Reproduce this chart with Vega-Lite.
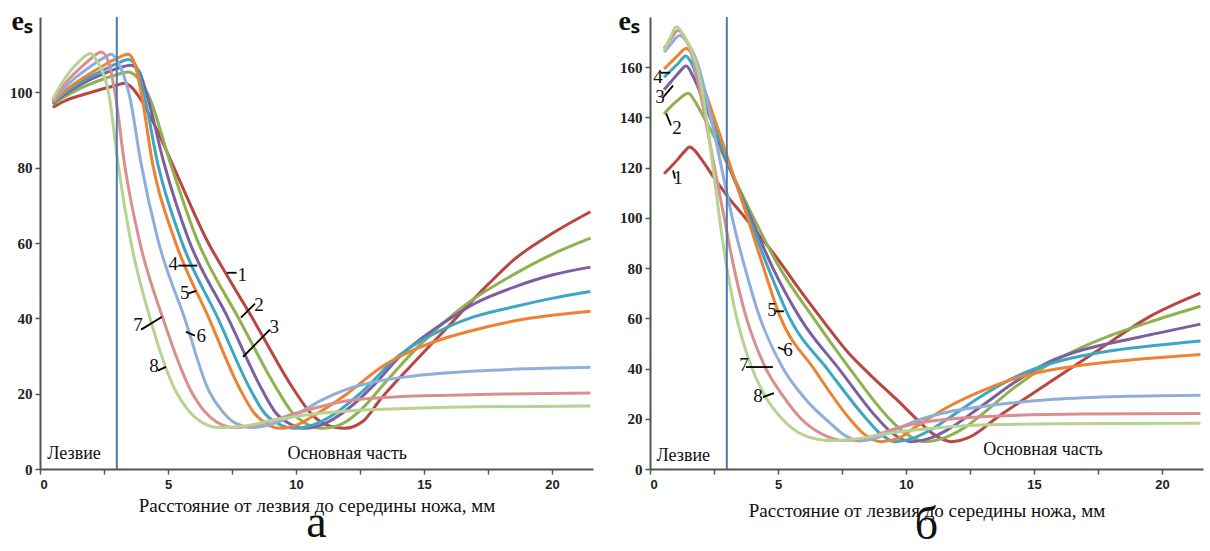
{
"$schema": "https://vega.github.io/schema/vega-lite/v6.json",
"background": "white",
"padding": {"left": 9, "top": 7, "right": 0, "bottom": 0},
"bounds": "flush",
"spacing": 57,
"config": {"view": {"stroke": null}, "axis": {"grid": false}},
"datasets": {
"a": [
{"c":"1","x":0.5,"y":96.0},{"c":"1","x":1.0,"y":97.8},{"c":"1","x":1.5,"y":99.0},{"c":"1","x":2.0,"y":100.0},{"c":"1","x":2.5,"y":101.0},{"c":"1","x":3.0,"y":101.9},{"c":"1","x":3.3,"y":102.4},{"c":"1","x":3.6,"y":101.2},{"c":"1","x":3.9,"y":98.5},{"c":"1","x":4.5,"y":91.0},{"c":"1","x":5.2,"y":80.5},{"c":"1","x":5.85,"y":70.5},{"c":"1","x":6.5,"y":61.0},{"c":"1","x":7.34,"y":51.0},{"c":"1","x":8.3,"y":40.0},{"c":"1","x":9.95,"y":20.7},{"c":"1","x":10.55,"y":15.0},{"c":"1","x":11.1,"y":12.0},{"c":"1","x":11.9,"y":10.8},{"c":"1","x":12.6,"y":12.6},{"c":"1","x":13.3,"y":18.5},{"c":"1","x":14.5,"y":27.5},{"c":"1","x":15.9,"y":37.5},{"c":"1","x":17.5,"y":49.0},{"c":"1","x":18.5,"y":55.5},{"c":"1","x":20.0,"y":62.5},{"c":"1","x":21.5,"y":68.3},
{"c":"2","x":0.5,"y":96.8},{"c":"2","x":1.0,"y":99.0},{"c":"2","x":1.5,"y":100.8},{"c":"2","x":2.0,"y":102.3},{"c":"2","x":2.5,"y":103.6},{"c":"2","x":3.0,"y":104.7},{"c":"2","x":3.45,"y":105.4},{"c":"2","x":3.75,"y":104.3},{"c":"2","x":4.25,"y":99.0},{"c":"2","x":5.1,"y":81.0},{"c":"2","x":6.1,"y":61.5},{"c":"2","x":7.8,"y":39.5},{"c":"2","x":9.3,"y":20.7},{"c":"2","x":9.85,"y":15.0},{"c":"2","x":10.35,"y":12.2},{"c":"2","x":11.0,"y":10.8},{"c":"2","x":11.8,"y":12.0},{"c":"2","x":12.5,"y":15.5},{"c":"2","x":13.3,"y":21.5},{"c":"2","x":14.0,"y":26.9},{"c":"2","x":15.0,"y":34.0},{"c":"2","x":16.6,"y":43.5},{"c":"2","x":18.6,"y":52.0},{"c":"2","x":20.0,"y":57.0},{"c":"2","x":21.5,"y":61.3},
{"c":"3","x":0.5,"y":97.0},{"c":"3","x":1.0,"y":99.6},{"c":"3","x":1.5,"y":101.7},{"c":"3","x":2.0,"y":103.5},{"c":"3","x":2.5,"y":105.0},{"c":"3","x":3.0,"y":106.3},{"c":"3","x":3.55,"y":107.2},{"c":"3","x":3.85,"y":105.8},{"c":"3","x":4.15,"y":100.0},{"c":"3","x":4.85,"y":81.0},{"c":"3","x":5.8,"y":61.0},{"c":"3","x":7.35,"y":40.0},{"c":"3","x":8.7,"y":20.7},{"c":"3","x":9.2,"y":15.0},{"c":"3","x":9.7,"y":12.2},{"c":"3","x":10.3,"y":10.8},{"c":"3","x":11.1,"y":12.0},{"c":"3","x":12.0,"y":15.8},{"c":"3","x":13.0,"y":22.0},{"c":"3","x":14.0,"y":29.5},{"c":"3","x":15.9,"y":39.4},{"c":"3","x":17.0,"y":44.0},{"c":"3","x":18.6,"y":48.5},{"c":"3","x":20.0,"y":51.5},{"c":"3","x":21.5,"y":53.6},
{"c":"4","x":0.5,"y":97.2},{"c":"4","x":1.0,"y":100.0},{"c":"4","x":1.5,"y":102.3},{"c":"4","x":2.0,"y":104.3},{"c":"4","x":2.5,"y":106.0},{"c":"4","x":3.0,"y":107.6},{"c":"4","x":3.45,"y":108.7},{"c":"4","x":3.75,"y":107.0},{"c":"4","x":4.05,"y":100.0},{"c":"4","x":4.6,"y":81.0},{"c":"4","x":5.5,"y":61.0},{"c":"4","x":6.95,"y":40.0},{"c":"4","x":8.25,"y":20.7},{"c":"4","x":8.75,"y":15.0},{"c":"4","x":9.25,"y":12.2},{"c":"4","x":9.95,"y":10.8},{"c":"4","x":10.7,"y":11.8},{"c":"4","x":11.5,"y":14.6},{"c":"4","x":12.5,"y":20.0},{"c":"4","x":14.0,"y":30.0},{"c":"4","x":15.9,"y":37.6},{"c":"4","x":17.0,"y":40.5},{"c":"4","x":18.6,"y":43.2},{"c":"4","x":20.0,"y":45.3},{"c":"4","x":21.5,"y":47.1},
{"c":"5","x":0.5,"y":97.4},{"c":"5","x":1.0,"y":100.5},{"c":"5","x":1.5,"y":103.0},{"c":"5","x":2.0,"y":105.2},{"c":"5","x":2.5,"y":107.2},{"c":"5","x":3.0,"y":109.0},{"c":"5","x":3.44,"y":110.1},{"c":"5","x":3.68,"y":108.0},{"c":"5","x":3.95,"y":100.0},{"c":"5","x":4.4,"y":81.0},{"c":"5","x":5.25,"y":61.0},{"c":"5","x":6.6,"y":40.0},{"c":"5","x":7.85,"y":20.7},{"c":"5","x":8.35,"y":15.0},{"c":"5","x":8.8,"y":12.2},{"c":"5","x":9.4,"y":10.8},{"c":"5","x":10.0,"y":11.6},{"c":"5","x":10.7,"y":14.2},{"c":"5","x":12.0,"y":20.0},{"c":"5","x":13.3,"y":26.9},{"c":"5","x":14.6,"y":31.6},{"c":"5","x":15.9,"y":34.9},{"c":"5","x":17.2,"y":37.3},{"c":"5","x":18.6,"y":39.4},{"c":"5","x":20.0,"y":40.8},{"c":"5","x":21.5,"y":41.9},
{"c":"6","x":0.5,"y":97.6},{"c":"6","x":1.0,"y":101.5},{"c":"6","x":1.5,"y":104.5},{"c":"6","x":2.0,"y":107.0},{"c":"6","x":2.5,"y":109.2},{"c":"6","x":2.78,"y":110.1},{"c":"6","x":3.05,"y":108.0},{"c":"6","x":3.5,"y":99.0},{"c":"6","x":3.95,"y":81.0},{"c":"6","x":4.6,"y":61.0},{"c":"6","x":5.65,"y":40.0},{"c":"6","x":6.6,"y":20.7},{"c":"6","x":7.1,"y":15.5},{"c":"6","x":7.6,"y":12.3},{"c":"6","x":8.3,"y":11.0},{"c":"6","x":9.0,"y":11.8},{"c":"6","x":10.0,"y":14.5},{"c":"6","x":11.0,"y":18.3},{"c":"6","x":12.0,"y":21.2},{"c":"6","x":13.2,"y":23.3},{"c":"6","x":14.6,"y":24.7},{"c":"6","x":17.0,"y":26.0},{"c":"6","x":19.0,"y":26.6},{"c":"6","x":21.5,"y":27.0},
{"c":"7","x":0.5,"y":97.8},{"c":"7","x":1.0,"y":102.5},{"c":"7","x":1.5,"y":106.0},{"c":"7","x":2.0,"y":109.0},{"c":"7","x":2.39,"y":110.7},{"c":"7","x":2.65,"y":108.5},{"c":"7","x":2.95,"y":99.0},{"c":"7","x":3.3,"y":81.0},{"c":"7","x":3.87,"y":61.0},{"c":"7","x":4.8,"y":40.0},{"c":"7","x":5.9,"y":20.7},{"c":"7","x":6.4,"y":15.5},{"c":"7","x":6.9,"y":12.5},{"c":"7","x":7.6,"y":11.0},{"c":"7","x":8.5,"y":11.8},{"c":"7","x":10.0,"y":14.8},{"c":"7","x":12.0,"y":18.1},{"c":"7","x":14.0,"y":19.2},{"c":"7","x":16.0,"y":19.6},{"c":"7","x":18.0,"y":19.9},{"c":"7","x":21.5,"y":20.2},
{"c":"8","x":0.5,"y":98.2},{"c":"8","x":1.0,"y":104.0},{"c":"8","x":1.5,"y":108.0},{"c":"8","x":1.97,"y":110.3},{"c":"8","x":2.25,"y":108.0},{"c":"8","x":2.7,"y":99.0},{"c":"8","x":3.05,"y":81.0},{"c":"8","x":3.53,"y":61.0},{"c":"8","x":4.3,"y":40.0},{"c":"8","x":5.3,"y":20.7},{"c":"8","x":5.8,"y":15.5},{"c":"8","x":6.3,"y":12.5},{"c":"8","x":7.0,"y":11.0},{"c":"8","x":8.0,"y":11.4},{"c":"8","x":9.0,"y":12.8},{"c":"8","x":10.7,"y":14.6},{"c":"8","x":12.0,"y":15.4},{"c":"8","x":14.6,"y":16.1},{"c":"8","x":17.0,"y":16.5},{"c":"8","x":21.5,"y":16.7}
],
"b": [
{"c":"1","x":0.55,"y":117.6},{"c":"1","x":0.8,"y":120.2},{"c":"1","x":1.1,"y":123.5},{"c":"1","x":1.35,"y":126.5},{"c":"1","x":1.55,"y":128.2},{"c":"1","x":1.75,"y":126.8},{"c":"1","x":2.0,"y":123.5},{"c":"1","x":2.5,"y":116.0},{"c":"1","x":3.05,"y":108.3},{"c":"1","x":3.6,"y":101.5},{"c":"1","x":4.15,"y":94.5},{"c":"1","x":5.0,"y":83.5},{"c":"1","x":5.8,"y":72.0},{"c":"1","x":6.76,"y":59.0},{"c":"1","x":7.73,"y":46.5},{"c":"1","x":8.6,"y":37.5},{"c":"1","x":9.6,"y":28.0},{"c":"1","x":10.45,"y":19.5},{"c":"1","x":11.05,"y":14.0},{"c":"1","x":11.77,"y":10.9},{"c":"1","x":12.5,"y":12.8},{"c":"1","x":13.6,"y":20.8},{"c":"1","x":15.55,"y":34.1},{"c":"1","x":17.5,"y":47.3},{"c":"1","x":19.45,"y":60.3},{"c":"1","x":21.5,"y":70.0},
{"c":"2","x":0.55,"y":141.4},{"c":"2","x":0.8,"y":144.2},{"c":"2","x":1.1,"y":147.0},{"c":"2","x":1.5,"y":149.6},{"c":"2","x":1.75,"y":146.5},{"c":"2","x":2.0,"y":142.0},{"c":"2","x":2.5,"y":132.5},{"c":"2","x":3.0,"y":122.0},{"c":"2","x":4.0,"y":101.0},{"c":"2","x":5.07,"y":80.0},{"c":"2","x":6.43,"y":59.5},{"c":"2","x":7.8,"y":40.0},{"c":"2","x":9.35,"y":20.0},{"c":"2","x":10.0,"y":14.0},{"c":"2","x":10.73,"y":10.9},{"c":"2","x":11.6,"y":12.8},{"c":"2","x":12.3,"y":16.5},{"c":"2","x":12.94,"y":21.5},{"c":"2","x":14.24,"y":32.5},{"c":"2","x":15.55,"y":41.5},{"c":"2","x":16.84,"y":48.3},{"c":"2","x":18.15,"y":53.8},{"c":"2","x":19.45,"y":58.3},{"c":"2","x":21.5,"y":64.8},
{"c":"3","x":0.55,"y":151.0},{"c":"3","x":0.8,"y":154.0},{"c":"3","x":1.1,"y":157.5},{"c":"3","x":1.42,"y":160.5},{"c":"3","x":1.65,"y":157.0},{"c":"3","x":2.0,"y":149.0},{"c":"3","x":2.5,"y":136.0},{"c":"3","x":3.0,"y":122.5},{"c":"3","x":3.9,"y":101.0},{"c":"3","x":4.8,"y":80.0},{"c":"3","x":5.9,"y":59.5},{"c":"3","x":7.41,"y":39.5},{"c":"3","x":8.9,"y":20.0},{"c":"3","x":9.5,"y":14.0},{"c":"3","x":10.2,"y":10.9},{"c":"3","x":11.0,"y":12.5},{"c":"3","x":11.6,"y":15.5},{"c":"3","x":12.94,"y":25.0},{"c":"3","x":14.24,"y":34.5},{"c":"3","x":15.55,"y":42.5},{"c":"3","x":16.84,"y":47.3},{"c":"3","x":18.15,"y":50.5},{"c":"3","x":19.8,"y":54.0},{"c":"3","x":21.5,"y":57.7},
{"c":"4","x":0.55,"y":156.0},{"c":"4","x":0.8,"y":158.5},{"c":"4","x":1.1,"y":161.5},{"c":"4","x":1.4,"y":164.5},{"c":"4","x":1.6,"y":162.0},{"c":"4","x":2.0,"y":151.0},{"c":"4","x":2.5,"y":137.0},{"c":"4","x":3.0,"y":123.5},{"c":"4","x":3.8,"y":102.0},{"c":"4","x":4.6,"y":80.5},{"c":"4","x":5.46,"y":60.0},{"c":"4","x":6.95,"y":39.5},{"c":"4","x":8.45,"y":20.0},{"c":"4","x":8.95,"y":14.5},{"c":"4","x":9.56,"y":10.9},{"c":"4","x":10.34,"y":12.5},{"c":"4","x":11.0,"y":15.8},{"c":"4","x":11.6,"y":19.8},{"c":"4","x":12.94,"y":29.0},{"c":"4","x":14.24,"y":36.5},{"c":"4","x":15.55,"y":41.7},{"c":"4","x":16.84,"y":45.0},{"c":"4","x":18.15,"y":47.3},{"c":"4","x":19.8,"y":49.3},{"c":"4","x":21.5,"y":51.0},
{"c":"5","x":0.55,"y":159.3},{"c":"5","x":0.8,"y":161.8},{"c":"5","x":1.1,"y":164.8},{"c":"5","x":1.4,"y":167.5},{"c":"5","x":1.6,"y":166.0},{"c":"5","x":2.0,"y":155.0},{"c":"5","x":2.5,"y":140.0},{"c":"5","x":3.0,"y":125.0},{"c":"5","x":3.7,"y":103.5},{"c":"5","x":4.41,"y":81.0},{"c":"5","x":5.07,"y":61.0},{"c":"5","x":6.43,"y":39.5},{"c":"5","x":7.8,"y":20.0},{"c":"5","x":8.35,"y":14.0},{"c":"5","x":9.03,"y":10.9},{"c":"5","x":9.7,"y":12.2},{"c":"5","x":10.34,"y":16.5},{"c":"5","x":11.6,"y":24.5},{"c":"5","x":12.94,"y":31.0},{"c":"5","x":14.24,"y":36.0},{"c":"5","x":15.55,"y":39.2},{"c":"5","x":16.84,"y":41.3},{"c":"5","x":18.15,"y":42.8},{"c":"5","x":19.8,"y":44.3},{"c":"5","x":21.5,"y":45.6},
{"c":"6","x":0.55,"y":166.0},{"c":"6","x":0.8,"y":169.0},{"c":"6","x":1.16,"y":172.6},{"c":"6","x":1.45,"y":170.0},{"c":"6","x":1.875,"y":161.0},{"c":"6","x":2.4,"y":139.0},{"c":"6","x":3.0,"y":110.0},{"c":"6","x":3.35,"y":94.0},{"c":"6","x":3.7,"y":80.5},{"c":"6","x":4.2,"y":63.0},{"c":"6","x":5.2,"y":40.0},{"c":"6","x":6.1,"y":27.5},{"c":"6","x":7.07,"y":18.0},{"c":"6","x":7.6,"y":13.5},{"c":"6","x":8.2,"y":11.2},{"c":"6","x":8.9,"y":12.6},{"c":"6","x":9.6,"y":15.8},{"c":"6","x":10.34,"y":19.0},{"c":"6","x":11.6,"y":22.6},{"c":"6","x":12.94,"y":24.8},{"c":"6","x":15.55,"y":27.6},{"c":"6","x":18.0,"y":28.8},{"c":"6","x":21.5,"y":29.4},
{"c":"7","x":0.55,"y":167.5},{"c":"7","x":0.8,"y":171.0},{"c":"7","x":1.09,"y":174.6},{"c":"7","x":1.35,"y":172.0},{"c":"7","x":1.6,"y":166.0},{"c":"7","x":2.0,"y":148.0},{"c":"7","x":2.5,"y":121.0},{"c":"7","x":2.9,"y":100.0},{"c":"7","x":3.24,"y":82.0},{"c":"7","x":3.7,"y":62.5},{"c":"7","x":4.48,"y":41.0},{"c":"7","x":5.2,"y":29.0},{"c":"7","x":5.9,"y":20.0},{"c":"7","x":6.7,"y":14.0},{"c":"7","x":7.6,"y":11.3},{"c":"7","x":8.5,"y":12.3},{"c":"7","x":9.2,"y":14.8},{"c":"7","x":10.34,"y":18.0},{"c":"7","x":11.6,"y":19.8},{"c":"7","x":12.94,"y":20.8},{"c":"7","x":16.84,"y":21.9},{"c":"7","x":21.5,"y":22.1},
{"c":"8","x":0.55,"y":166.6},{"c":"8","x":0.8,"y":172.0},{"c":"8","x":1.03,"y":176.1},{"c":"8","x":1.3,"y":173.0},{"c":"8","x":1.6,"y":167.0},{"c":"8","x":1.875,"y":159.0},{"c":"8","x":2.2,"y":140.0},{"c":"8","x":2.5,"y":117.0},{"c":"8","x":2.85,"y":90.0},{"c":"8","x":3.3,"y":64.0},{"c":"8","x":3.95,"y":41.0},{"c":"8","x":4.5,"y":29.0},{"c":"8","x":5.07,"y":21.0},{"c":"8","x":6.0,"y":13.5},{"c":"8","x":7.07,"y":11.3},{"c":"8","x":8.3,"y":12.3},{"c":"8","x":9.2,"y":14.0},{"c":"8","x":10.34,"y":15.5},{"c":"8","x":12.94,"y":17.5},{"c":"8","x":16.0,"y":18.0},{"c":"8","x":21.5,"y":18.2}
],
"ta": [{"t":"Лезвие","x":1.33,"y":4.0},{"t":"Основная часть","x":12.0,"y":4.0}],
"tb": [{"t":"Лезвие","x":1.3,"y":5.0},{"t":"Основная часть","x":15.35,"y":7.4}],
"na": [
{"t":"1","x":7.9,"y":51.6,"x1":7.3,"y1":52.1,"x2":7.68,"y2":52.1},
{"t":"2","x":8.55,"y":43.6,"x1":7.85,"y1":40.2,"x2":8.4,"y2":43.9},
{"t":"3","x":9.15,"y":37.6,"x1":7.93,"y1":29.8,"x2":8.98,"y2":37.0},
{"t":"4","x":5.2,"y":54.4,"x1":5.4,"y1":54.0,"x2":6.14,"y2":54.0},
{"t":"5","x":5.65,"y":46.6,"x1":5.8,"y1":46.6,"x2":6.1,"y2":47.3},
{"t":"6","x":6.3,"y":35.3,"x1":5.7,"y1":36.4,"x2":6.05,"y2":35.4},
{"t":"7","x":3.83,"y":38.2,"x1":3.95,"y1":37.0,"x2":4.77,"y2":40.4},
{"t":"8","x":4.45,"y":27.3,"x1":4.6,"y1":26.1,"x2":4.92,"y2":27.1}
],
"nb": [
{"t":"4","x":0.31,"y":156.0,"x1":0.43,"y1":157.8,"x2":0.78,"y2":157.8},
{"t":"3","x":0.39,"y":148.0,"x1":0.51,"y1":148.0,"x2":0.9,"y2":152.7},
{"t":"2","x":1.05,"y":135.6,"x1":0.63,"y1":141.6,"x2":0.82,"y2":136.8},
{"t":"1","x":1.09,"y":115.7,"x1":0.9,"y1":118.9,"x2":0.98,"y2":115.7},
{"t":"5","x":4.77,"y":63.2,"x1":4.92,"y1":62.8,"x2":5.23,"y2":62.8},
{"t":"6","x":5.39,"y":47.3,"x1":5.0,"y1":48.5,"x2":5.27,"y2":47.3},
{"t":"7","x":3.67,"y":41.4,"x1":3.75,"y1":40.6,"x2":4.8,"y2":40.6},
{"t":"8","x":4.22,"y":29.2,"x1":4.41,"y1":28.6,"x2":4.84,"y2":30.2}
]
},
"hconcat": [
{
"width": 553, "height": 452,
"title": {"text": "а", "orient": "bottom", "font": "Liberation Serif", "fontSize": 46, "fontWeight": "normal", "color": "#111", "offset": -14},
"layer": [
{"data": {"name": "a"},
 "mark": {"type": "line", "strokeWidth": 3, "interpolate": "monotone"},
 "encoding": {
  "x": {"field": "x", "type": "quantitative", "scale": {"domain": [0, 21.6], "nice": false},
   "axis": {"title": "Расстояние от лезвия до середины ножа, мм", "values": [0,2.5,5,7.5,10,12.5,15,17.5,20], "labelExpr": "datum.value % 5 === 0 ? datum.label : ''", "labelFont": "Liberation Sans", "labelFontWeight": "bold", "labelFontSize": 13, "labelColor": "#222", "labelPadding": 4, "tickSize": 5, "tickColor": "#555", "tickWidth": 1.5, "domainColor": "#555", "domainWidth": 2, "titleFont": "Liberation Serif", "titleFontSize": 19, "titleFontWeight": "normal", "titleColor": "#111", "titlePadding": 5}},
  "y": {"field": "y", "type": "quantitative", "scale": {"domain": [0, 120], "nice": false},
   "axis": {"title": "eₛ", "titleAngle": 0, "titleX": -29, "titleY": 12, "titleAlign": "left", "titleBaseline": "alphabetic", "titleFont": "Liberation Serif", "titleFontSize": 28, "titleFontWeight": "bold", "titleColor": "#111", "values": [0,20,40,60,80,100], "labelFont": "Liberation Serif", "labelFontWeight": "bold", "labelFontSize": 15, "labelColor": "#222", "labelPadding": 3, "tickSize": 5, "tickColor": "#555", "tickWidth": 1.5, "domainColor": "#555", "domainWidth": 2}},
  "color": {"field": "c", "type": "nominal", "legend": null, "scale": {"domain": ["1","2","3","4","5","6","7","8"], "range": ["#B94643","#8EB24F","#7B5FA0","#3DA6C3","#EE8233","#8EAEDB","#D98F8E","#B7D391"]}}
 }},
{"data": {"values": [{"x": 3}]},
 "mark": {"type": "rule", "color": "#4A78B5", "strokeWidth": 2},
 "encoding": {"x": {"field": "x", "type": "quantitative"}}},
{"data": {"name": "ta"},
 "mark": {"type": "text", "font": "Liberation Serif", "fontSize": 18, "color": "#111", "baseline": "middle"},
 "encoding": {"x": {"field": "x", "type": "quantitative"}, "y": {"field": "y", "type": "quantitative"}, "text": {"field": "t"}}},
{"data": {"name": "na"},
 "mark": {"type": "rule", "color": "#000", "strokeWidth": 1.8},
 "encoding": {"x": {"field": "x1", "type": "quantitative"}, "y": {"field": "y1", "type": "quantitative"}, "x2": {"field": "x2"}, "y2": {"field": "y2"}}},
{"data": {"name": "na"},
 "mark": {"type": "text", "font": "Liberation Serif", "fontSize": 19, "color": "#111", "baseline": "middle"},
 "encoding": {"x": {"field": "x", "type": "quantitative"}, "y": {"field": "y", "type": "quantitative"}, "text": {"field": "t"}}}
]
},
{
"width": 553, "height": 452,
"title": {"text": "б", "orient": "bottom", "font": "Liberation Serif", "fontSize": 46, "fontWeight": "normal", "color": "#111", "offset": -17},
"layer": [
{"data": {"name": "b"},
 "mark": {"type": "line", "strokeWidth": 3, "interpolate": "monotone"},
 "encoding": {
  "x": {"field": "x", "type": "quantitative", "scale": {"domain": [0, 21.6], "nice": false},
   "axis": {"title": "Расстояние от лезвия до середины ножа, мм", "values": [0,2.5,5,7.5,10,12.5,15,17.5,20], "labelExpr": "datum.value % 5 === 0 ? datum.label : ''", "labelFont": "Liberation Sans", "labelFontWeight": "bold", "labelFontSize": 13, "labelColor": "#222", "labelPadding": 4, "tickSize": 5, "tickColor": "#555", "tickWidth": 1.5, "domainColor": "#555", "domainWidth": 2, "titleFont": "Liberation Serif", "titleFontSize": 19, "titleFontWeight": "normal", "titleColor": "#111", "titlePadding": 10}},
  "y": {"field": "y", "type": "quantitative", "scale": {"domain": [0, 180], "nice": false},
   "axis": {"title": "eₛ", "titleAngle": 0, "titleX": -32, "titleY": 12, "titleAlign": "left", "titleBaseline": "alphabetic", "titleFont": "Liberation Serif", "titleFontSize": 28, "titleFontWeight": "bold", "titleColor": "#111", "values": [0,20,40,60,80,100,120,140,160], "labelFont": "Liberation Serif", "labelFontWeight": "bold", "labelFontSize": 15, "labelColor": "#222", "labelPadding": 3, "tickSize": 5, "tickColor": "#555", "tickWidth": 1.5, "domainColor": "#555", "domainWidth": 2}},
  "color": {"field": "c", "type": "nominal", "legend": null, "scale": {"domain": ["1","2","3","4","5","6","7","8"], "range": ["#B94643","#8EB24F","#7B5FA0","#3DA6C3","#EE8233","#8EAEDB","#D98F8E","#B7D391"]}}
 }},
{"data": {"values": [{"x": 3}]},
 "mark": {"type": "rule", "color": "#4A78B5", "strokeWidth": 2},
 "encoding": {"x": {"field": "x", "type": "quantitative"}}},
{"data": {"name": "tb"},
 "mark": {"type": "text", "font": "Liberation Serif", "fontSize": 18, "color": "#111", "baseline": "middle"},
 "encoding": {"x": {"field": "x", "type": "quantitative"}, "y": {"field": "y", "type": "quantitative"}, "text": {"field": "t"}}},
{"data": {"name": "nb"},
 "mark": {"type": "rule", "color": "#000", "strokeWidth": 1.8},
 "encoding": {"x": {"field": "x1", "type": "quantitative"}, "y": {"field": "y1", "type": "quantitative"}, "x2": {"field": "x2"}, "y2": {"field": "y2"}}},
{"data": {"name": "nb"},
 "mark": {"type": "text", "font": "Liberation Serif", "fontSize": 19, "color": "#111", "baseline": "middle"},
 "encoding": {"x": {"field": "x", "type": "quantitative"}, "y": {"field": "y", "type": "quantitative"}, "text": {"field": "t"}}}
]
}
]
}
